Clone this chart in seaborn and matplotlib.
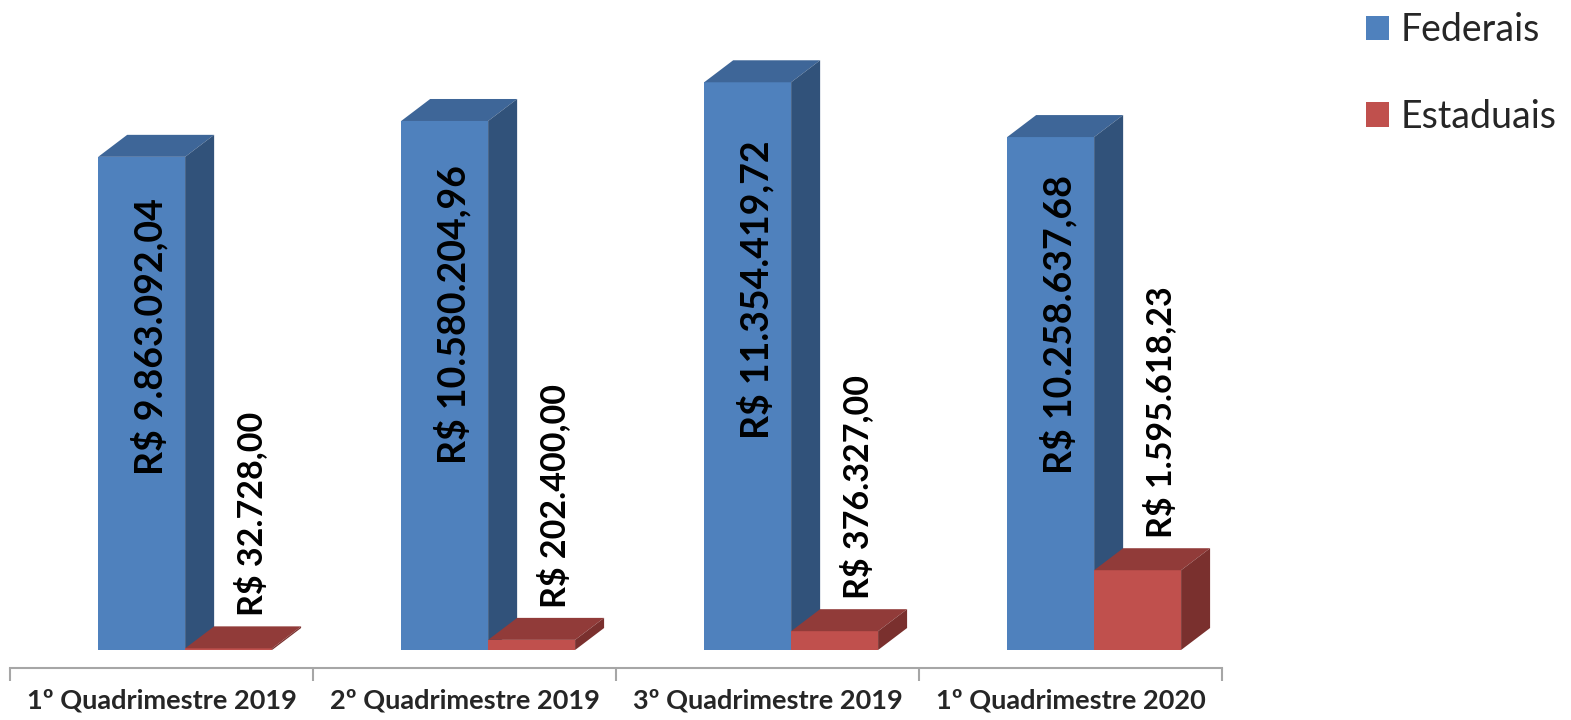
import matplotlib
matplotlib.use("Agg")
import matplotlib.pyplot as plt
import seaborn as sns
import pandas as pd
from matplotlib.patches import Polygon, Patch

# dados
quadrimestres = ["1º Quadrimestre 2019", "2º Quadrimestre 2019",
                 "3º Quadrimestre 2019", "1º Quadrimestre 2020"]
federais = [9863092.04, 10580204.96, 11354419.72, 10258637.68]
estaduais = [32728.00, 202400.00, 376327.00, 1595618.23]
series = ["Federais", "Estaduais"]

cores_frente = {"Federais": "#4F81BD", "Estaduais": "#C0504D"}
cores_topo = {"Federais": "#3E6698", "Estaduais": "#913B39"}
cores_lado = {"Federais": "#31527A", "Estaduais": "#7A302E"}


def brl(v):
    # formato brasileiro: R$ 1.234.567,89
    s = f"{v:,.2f}"
    s = s.replace(",", "X").replace(".", ",").replace("X", ".")
    return "R$ " + s


df = pd.DataFrame({
    "Quadrimestre": quadrimestres * 2,
    "Valor": federais + estaduais,
    "Tipo": [series[0]] * 4 + [series[1]] * 4,
})

sns.set_style("white")
plt.rcParams["font.family"] = ["Lato", "DejaVu Sans"]

fig = plt.figure(figsize=(15.71, 7.20), dpi=100)
ax = fig.add_axes([10 / 1571, 52 / 720, 1212 / 1571, 628 / 720])

sns.barplot(data=df, x="Quadrimestre", y="Valor", hue="Tipo",
            palette=cores_frente, width=0.574, saturation=1,
            ax=ax, legend=False)

ax.set_xlim(-0.5, 3.5)
ax.set_ylim(-0.36e6, 12.2e6)

# profundidade do efeito 3D (em unidades de dados)
dx = 29 / 303
dy = 22 / 50 * 1e6
desloc = 0.078

for k, tipo in enumerate(series):
    valores = federais if tipo == "Federais" else estaduais
    barras = ax.containers[k]
    for p, v in zip(barras.patches, valores):
        p.set_x(p.get_x() + desloc)
        p.set_linewidth(0)
        p.set_zorder(2 + k)
        x0, w, h = p.get_x(), p.get_width(), p.get_height()
        topo = Polygon([(x0, h), (x0 + w, h), (x0 + w + dx, h + dy), (x0 + dx, h + dy)],
                       closed=True, facecolor=cores_topo[tipo], lw=0, zorder=2 + k)
        lado = Polygon([(x0 + w, 0), (x0 + w + dx, dy), (x0 + w + dx, h + dy), (x0 + w, h)],
                       closed=True, facecolor=cores_lado[tipo], lw=0, zorder=2 + k)
        ax.add_patch(topo)
        ax.add_patch(lado)
        xc = x0 + w / 2
        if tipo == "Federais":
            ax.text(xc + 0.025, v * 0.635, brl(v), rotation=90, ha="center", va="center",
                    fontsize=27, fontweight="bold", color="black", zorder=10)
        else:
            ax.text(xc + 0.075, h + dy + 0.2e6, brl(v), rotation=90, ha="center", va="bottom",
                    fontsize=24.5, fontweight="bold", color="black", zorder=10)

# eixo
for s in ["top", "right", "left"]:
    ax.spines[s].set_visible(False)
ax.spines["bottom"].set_color("#A6A6A6")
ax.spines["bottom"].set_linewidth(1.5)
ax.set_yticks([])
ax.set_xlabel("")
ax.set_ylabel("")
ax.set_xticks(range(4))
ax.set_xticklabels(quadrimestres, fontsize=19.5, fontweight="bold")
ax.set_xticks([-0.5, 0.5, 1.5, 2.5, 3.5], minor=True)
ax.tick_params(axis="x", which="major", length=0, pad=15)
ax.tick_params(axis="x", which="minor", bottom=True, length=9, width=1.5,
               color="#A6A6A6", direction="out")

# legenda
handles = [Patch(facecolor=cores_frente[s], edgecolor="none") for s in series]
fig.legend(handles, series, loc="upper left", bbox_to_anchor=(1366 / 1571, 1 - 12 / 720),
           frameon=False, fontsize=27, handlelength=0.62, handleheight=0.62,
           handletextpad=0.3, labelspacing=1.35, borderpad=0, borderaxespad=0)

fig.savefig("out.png", dpi=100)
